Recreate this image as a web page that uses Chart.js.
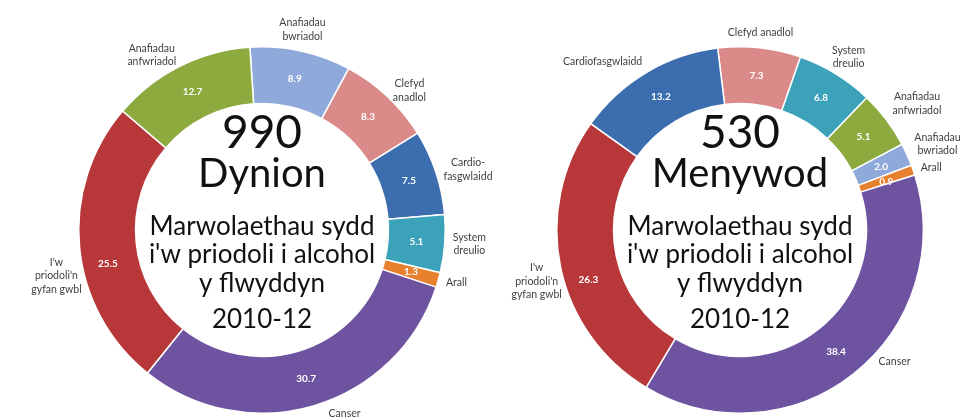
<!DOCTYPE html>
<html><head><meta charset="utf-8">
<script src="https://cdn.jsdelivr.net/npm/chart.js@4.4.0/dist/chart.umd.min.js"></script>
<style>
html,body{margin:0;padding:0;background:#fff;width:966px;height:419px;overflow:hidden}
#wrap{position:relative;width:966px;height:419px}
.c{position:absolute;top:0;left:0}
</style></head><body>
<div id="wrap">
<canvas id="men" class="c" width="966" height="419"></canvas>
<canvas id="women" class="c" width="966" height="419"></canvas>
</div>
<script>
// ---- data ----
const menCategories = ["bwriadol","anadlol","cardio","treulio","arall","canser","cyfan","anfwriadol"];
const menValues = [8.9, 8.3, 7.5, 5.1, 1.3, 30.7, 25.5, 12.7];
const menLabels = [["Anafiadau","bwriadol"],["Clefyd","anadlol"],["Cardio-","fasgwlaidd"],["System","dreulio"],["Arall"],["Canser"],["I'w","priodoli'n","gyfan gwbl"],["Anafiadau","anfwriadol"]];
const menTitle = ["990","Dynion","Marwolaethau sydd","i'w priodoli i alcohol","y flwyddyn","2010-12"];

const womenCategories = ["anadlol","treulio","anfwriadol","bwriadol","arall","canser","cyfan","cardio"];
const womenValues = [7.3, 6.8, 5.1, 2.0, 0.9, 38.4, 26.3, 13.2];
const womenLabels = [["Clefyd anadlol"],["System","dreulio"],["Anafiadau","anfwriadol"],["Anafiadau","bwriadol"],["Arall"],["Canser"],["I'w","priodoli'n","gyfan gwbl"],["Cardiofasgwlaidd"]];
const womenTitle = ["530","Menywod","Marwolaethau sydd","i'w priodoli i alcohol","y flwyddyn","2010-12"];

// ---- styles ----
const colours = {
  bwriadol:"#8FA9DA", anadlol:"#D98A89", cardio:"#3C6DAF", treulio:"#3CA2BA",
  arall:"#E7812E", canser:"#6E54A0", cyfan:"#B8383A", anfwriadol:"#8CAA3D"
};
const FONT = "Lato, 'Open Sans', sans-serif";
// label nudges (layout only)
const menLabelNudge = [[0,0],[0,0],[0,0],[0,0],[0,0],[28,0],[10,28],[0,-4]];
const menValueNudge = [[0,0],[0,0],[0,0],[0,0],[0,0],[0,0],[0,19],[0,0]];
const womenLabelNudge = [[0,0],[-8,-10],[0,-11],[0,-7],[0,0],[20,-18],[9,12],[0,-4]];
const womenValueNudge = [[0,0],[0,0],[0,0],[0,0],[0,2],[0,0],[0,18],[0,0]];
const titleStyle = [
  {size:46, y:148}, {size:40, y:187}, {size:26, y:235}, {size:26, y:263}, {size:26, y:292}, {size:26, y:328}
];

const labelPlugin = {
  id:'doughLabels',
  afterDraw(chart, args, opts){
    const ctx = chart.ctx;
    const meta = chart.getDatasetMeta(0);
    let cx = 0;
    ctx.save();
    meta.data.forEach((arc,i)=>{
      const p = arc.getProps(['x','y','startAngle','endAngle','innerRadius','outerRadius'], true);
      cx = p.x;
      const mid = (p.startAngle+p.endAngle)/2;
      const cs = Math.cos(mid), sn = Math.sin(mid);
      // value label
      const rm = (p.innerRadius+p.outerRadius)/2;
      const vn = opts.valueNudge[i];
      ctx.fillStyle = '#ffffff';
      ctx.font = 'bold 10px ' + FONT;
      ctx.textAlign = 'center';
      ctx.textBaseline = 'middle';
      ctx.fillText(opts.values[i].toFixed(1), p.x + cs*rm + vn[0], p.y + sn*rm + vn[1]);
      // outside label (lines centred within their block)
      const lines = opts.labels[i];
      const ro = p.outerRadius + 8;
      const ln = opts.labelNudge[i];
      let lx = p.x + cs*ro + ln[0], ly = p.y + sn*ro + ln[1];
      const lh = 13.5;
      const n = lines.length;
      ctx.fillStyle = '#3f3f3f';
      ctx.font = '10.5px ' + FONT;
      const w = Math.max(...lines.map(t=>ctx.measureText(t).width));
      let top, centreX;
      if (Math.abs(cs) < 0.4) {
        centreX = lx;
        top = sn < 0 ? ly - n*lh : ly - n*lh/2;
      } else {
        centreX = cs > 0 ? lx + w/2 : lx - w/2;
        top = ly - n*lh/2;
      }
      ctx.textAlign = 'center';
      lines.forEach((t,k)=>{ ctx.fillText(t, centreX, top + lh*k + lh/2); });
    });
    // centre title
    ctx.fillStyle = '#111111';
    ctx.textAlign = 'center';
    ctx.textBaseline = 'alphabetic';
    opts.title.forEach((t,k)=>{
      ctx.font = titleStyle[k].size + 'px ' + FONT;
      ctx.fillText(t, cx, titleStyle[k].y);
    });
    ctx.restore();
  }
};

function makeChart(id, cats, vals, labels, title, rotation, padding, labelNudge, valueNudge){
  return new Chart(document.getElementById(id), {
    type:'doughnut',
    data:{
      labels: labels.map(l=>l.join(' ')),
      datasets:[{
        data: vals,
        backgroundColor: cats.map(c=>colours[c]),
        borderColor:'#ffffff',
        borderWidth:1.5
      }]
    },
    options:{
      responsive:false,
      animation:false,
      rotation: rotation,
      cutout:'69%',
      layout:{padding: padding},
      plugins:{
        legend:{display:false},
        tooltip:{enabled:false},
        doughLabels:{labels: labels, values: vals, title: title, labelNudge: labelNudge, valueNudge: valueNudge}
      }
    },
    plugins:[labelPlugin]
  });
}

function build(){
  makeChart('men', menCategories, menValues, menLabels, menTitle, -3.8,
    {left:78, right:520, top:46, bottom:5}, menLabelNudge, menValueNudge);
  makeChart('women', womenCategories, womenValues, womenLabels, womenTitle, -7,
    {left:556, right:42, top:46, bottom:5}, womenLabelNudge, womenValueNudge);
}
if (document.fonts && document.fonts.load) {
  Promise.all([document.fonts.load('26px Lato'), document.fonts.load('bold 10px Lato')]).then(build, build);
} else build();
</script>
</body></html>
